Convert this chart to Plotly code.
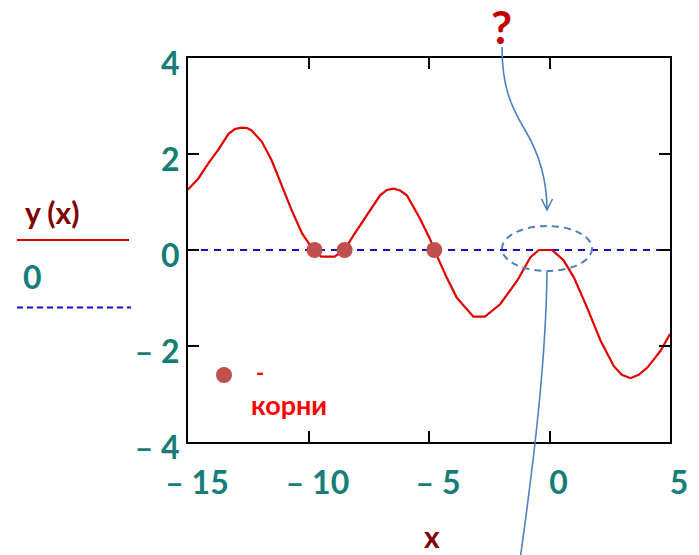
import plotly.graph_objects as go

# y(x) sampled along the plotted curve
x_vals = [-15.0, -14.57, -14.15, -13.74, -13.32, -13.05, -12.77, -12.55, -12.36, -11.94,
          -11.53, -11.11, -10.70, -10.26, -9.92, -9.75, -9.47, -8.92, -8.51, -8.14,
          -7.58, -7.03, -6.75, -6.48, -6.2, -5.92, -5.37, -4.96, -4.78, -4.27,
          -3.85, -3.16, -2.68, -2.05, -1.34, -0.79, -0.44, 0.11, 0.59, 1.01,
          1.56, 2.12, 2.67, 3.0, 3.36, 3.7, 4.06, 4.61, 5.0]
y_vals = [1.26, 1.49, 1.81, 2.09, 2.42, 2.52, 2.55, 2.54, 2.49, 2.26,
          1.87, 1.35, 0.83, 0.34, 0.09, 0.0, -0.14, -0.14, 0.0, 0.30,
          0.72, 1.14, 1.25, 1.28, 1.24, 1.14, 0.65, 0.23, 0.0, -0.57,
          -0.99, -1.39, -1.39, -1.13, -0.64, -0.15, 0.0, 0.0, -0.22, -0.57,
          -1.20, -1.89, -2.42, -2.6, -2.67, -2.6, -2.45, -2.10, -1.75]

# roots found on the zero line
roots_x = [-9.75, -8.5, -4.78]
roots_y = [0.0, 0.0, 0.0]

# reference line y = 0
zero_x = [-15, 5]
zero_y = [0, 0]

x_ticks = [-15, -10, -5, 0, 5]
x_tick_text = ["– 15", "– 10", "– 5", "0", "5"]
y_ticks = [-4, -2, 0, 2, 4]
y_tick_text = ["– 4", "– 2", "0", "2", "4"]

TEAL = "#167D78"
DARKRED = "#7F0000"
CURVE = "#E00000"
DOT = "#C0504D"
ZBLUE = "#1010C8"
ABLUE = "#4F81BD"
FONT = "Lato"

W, H = 699, 555
L, R, T, B = 188, 670, 58, 442


def px(xp):
    return (xp - L) / (R - L)


def py(yp):
    return (B - yp) / (B - T)


fig = go.Figure()
fig.add_trace(go.Scatter(x=zero_x, y=zero_y, mode="lines",
                         line=dict(color=ZBLUE, width=2, dash="7px,6px"),
                         hoverinfo="skip"))
fig.add_trace(go.Scatter(x=x_vals, y=y_vals, mode="lines",
                         line=dict(color=CURVE, width=2.2)))
fig.add_trace(go.Scatter(x=roots_x, y=roots_y, mode="markers",
                         marker=dict(color=DOT, size=16, line=dict(width=0))))

axis_common = dict(showgrid=False, zeroline=False, showline=True, linecolor="black",
                   linewidth=2, mirror="ticks", ticks="inside", ticklen=11,
                   tickwidth=2, tickcolor="black",
                   tickfont=dict(family=FONT, size=32, color=TEAL, weight="bold"))
fig.update_xaxes(range=[-15, 5], tickvals=x_ticks, ticktext=x_tick_text,
                 ticklabelshift=9, ticklabelstandoff=12, **axis_common)
fig.update_yaxes(range=[-4, 4], tickvals=y_ticks, ticktext=y_tick_text,
                 ticklabelshift=6, ticklabelstandoff=0, **axis_common)

shapes = []
# legend lines on the left
shapes.append(dict(type="line", xref="paper", yref="paper",
                   x0=px(17), x1=px(129), y0=py(240), y1=py(240),
                   line=dict(color=CURVE, width=2)))
shapes.append(dict(type="line", xref="paper", yref="paper",
                   x0=px(17), x1=px(131), y0=py(307.5), y1=py(307.5),
                   line=dict(color=ZBLUE, width=2, dash="6px,4px")))
# marker key for the roots
shapes.append(dict(type="circle", xref="paper", yref="paper",
                   xsizemode="pixel", ysizemode="pixel",
                   xanchor=px(224), yanchor=py(375),
                   x0=-8, x1=8, y0=-8, y1=8,
                   fillcolor=DOT, line=dict(width=0)))
# dashed ellipse around the touching point
shapes.append(dict(type="circle", xref="paper", yref="paper",
                   x0=px(502), x1=px(592), y0=py(271), y1=py(226),
                   line=dict(color=ABLUE, width=2, dash="7px,5px")))

arrow = (f"M {px(502)},{py(47)} C {px(502)},{py(85)} {px(510)},{py(105)} {px(525)},{py(130)} "
         f"C {px(540)},{py(155)} {px(547)},{py(180)} {px(547)},{py(210)}")
shapes.append(dict(type="path", xref="paper", yref="paper", path=arrow,
                   line=dict(color=ABLUE, width=1.6)))
head = f"M {px(541.5)},{py(199)} L {px(547)},{py(210)} L {px(552.5)},{py(199)}"
shapes.append(dict(type="path", xref="paper", yref="paper", path=head,
                   line=dict(color=ABLUE, width=1.6)))
down = f"M {px(547)},{py(272)} C {px(546)},{py(360)} {px(534)},{py(460)} {px(520)},{py(560)}"
shapes.append(dict(type="path", xref="paper", yref="paper", path=down,
                   line=dict(color=ABLUE, width=1.6)))

annotations = [
    dict(text="y (x)", x=px(52), y=py(212), font=dict(family=FONT, size=30, color=DARKRED, weight="bold")),
    dict(text="0", x=px(32), y=py(276), font=dict(family=FONT, size=32, color=TEAL, weight="bold")),
    dict(text="-", x=px(260), y=py(372), font=dict(family=FONT, size=22, color="#FF0000", weight="bold")),
    dict(text="корни", x=px(289), y=py(404), font=dict(family=FONT, size=27, color="#FF0000", weight="bold")),
    dict(text="?", x=px(501), y=py(26), font=dict(family=FONT, size=46, color="#C00000", weight="bold")),
]
for a in annotations:
    a.update(xref="paper", yref="paper", showarrow=False, xanchor="center", yanchor="middle")
annotations.append(dict(text="x", x=px(432), y=py(555), xref="paper", yref="paper",
                        showarrow=False, xanchor="center", yanchor="bottom", borderpad=0,
                        font=dict(family=FONT, size=30, color=DARKRED, weight="bold")))

fig.update_layout(width=W, height=H, margin=dict(l=L, r=W - R, t=T, b=H - B),
                  paper_bgcolor="white", plot_bgcolor="white", showlegend=False,
                  shapes=shapes, annotations=annotations)

fig.write_html("out.html")
